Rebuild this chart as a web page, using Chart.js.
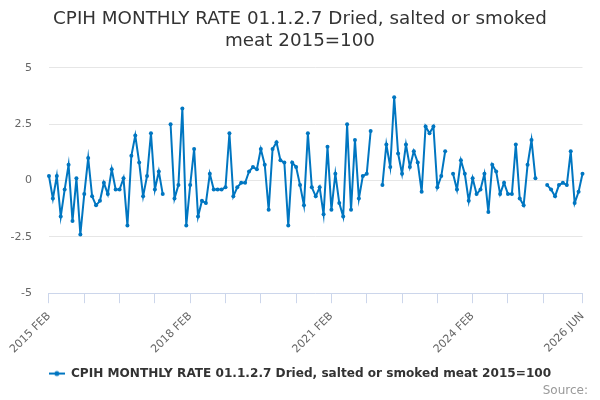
<!DOCTYPE html>
<html>
<head>
<meta charset="utf-8">
<script src="https://cdn.jsdelivr.net/npm/chart.js@4.4.1/dist/chart.umd.min.js"></script>
<style>
  html, body { margin: 0; background: #fff; }
  #wrap { width: 600px; height: 400px; }
</style>
</head>
<body>
<div id="wrap"><canvas id="chart"></canvas></div>
<script>
const LINE_COLOR = '#0076c1';
const AXIS_COLOR = '#ccd6eb';
const GRID_COLOR = '#e6e6e6';
const FONT = "'DejaVu Sans', sans-serif";

const TITLE_LINES = ['CPIH MONTHLY RATE 01.1.2.7 Dried, salted or smoked', 'meat 2015=100'];
const SERIES_NAME = 'CPIH MONTHLY RATE 01.1.2.7 Dried, salted or smoked meat 2015=100';
const SOURCE_TEXT = 'Source:';

const MONTHS = ['JAN', 'FEB', 'MAR', 'APR', 'MAY', 'JUN', 'JUL', 'AUG', 'SEP', 'OCT', 'NOV', 'DEC'];
const START_YEAR = 2015;
const START_MONTH = 1; // FEB

// monthly rate, 2015 FEB .. 2026 JUN (null = no value)
const RATES = [
  0.2, -0.8, 0.2, -1.6, -0.4, 0.7, -1.8, 0.1, -2.4, -0.6, 1.0, -0.7,
  -1.1, -0.9, -0.1, -0.6, 0.5, -0.4, -0.4, 0.1, -2.0, 1.1, 2.0, 0.8,
  -0.7, 0.2, 2.1, -0.4, 0.4, -0.6, null, 2.5, -0.8, -0.2, 3.2, -2.0,
  -0.2, 1.4, -1.6, -0.9, -1.0, 0.3, -0.4, -0.4, -0.4, -0.3, 2.1, -0.7,
  -0.3, -0.1, -0.1, 0.4, 0.6, 0.5, 1.4, 0.7, -1.3, 1.4, 1.7, 0.9,
  0.8, -2.0, 0.8, 0.6, -0.2, -1.1, 2.1, -0.3, -0.7, -0.3, -1.5, 1.5,
  -1.3, 0.3, -1.0, -1.6, 2.5, -1.3, 1.8, -0.8, 0.2, 0.3, 2.2, null,
  null, -0.2, 1.6, 0.6, 3.7, 1.2, 0.3, 1.6, 0.6, 1.3, 0.8, -0.5,
  2.4, 2.1, 2.4, -0.3, 0.2, 1.3, null, 0.3, -0.4, 0.9, 0.3, -0.9,
  0.1, -0.6, -0.4, 0.3, -1.4, 0.7, 0.4, -0.6, -0.1, -0.6, -0.6, 1.6,
  -0.8, -1.1, 0.7, 1.8, 0.1, null, null, -0.2, -0.4, -0.7, -0.2, -0.1,
  -0.2, 1.3, -1.0, -0.5, 0.3,
];

const TICK_MARKS  = [0, 9, 18, 27, 36, 45, 54, 63, 72, 81, 90, 99, 108, 117, 126, 136];
const TICK_LABELS = [0, 36, 72, 108, 136];
const Y_TICKS = [-5, -2.5, 0, 2.5, 5];

const categories = RATES.map((_, i) => {
  const m = START_MONTH + i;
  return `${START_YEAR + Math.floor(m / 12)} ${MONTHS[m % 12]}`;
});

// legend symbol: short line with a dot
function legendSymbol() {
  const c = document.createElement('canvas');
  c.width = 16; c.height = 8;
  const g = c.getContext('2d');
  g.strokeStyle = LINE_COLOR;
  g.lineWidth = 2;
  g.beginPath(); g.moveTo(0, 4); g.lineTo(16, 4); g.stroke();
  g.fillStyle = LINE_COLOR;
  g.beginPath(); g.arc(8, 4, 2.5, 0, Math.PI * 2); g.fill();
  return c;
}

// title and legend centred on the whole canvas, source text 12px from the right edge
const recenterBlocks = {
  id: 'recenterBlocks',
  afterLayout(chart) {
    for (const box of chart.boxes) {
      if (box === chart.titleBlock || box === chart.legend) {
        box.left = 0;
        box.right = chart.width;
      } else if (box.options && box.options.text === SOURCE_TEXT) {
        box.right = chart.width - 12;
      }
    }
  },
};

new Chart(document.getElementById('chart'), {
  type: 'line',
  data: {
    labels: categories,
    datasets: [{
      label: SERIES_NAME,
      data: RATES,
      borderColor: LINE_COLOR,
      backgroundColor: LINE_COLOR,
      borderWidth: 2,
      pointRadius: 2,
      pointBorderWidth: 0,
      pointHoverRadius: 3,
      tension: 0,
      spanGaps: false,
    }],
  },
  plugins: [recenterBlocks],
  options: {
    responsive: true,
    maintainAspectRatio: false,
    animation: false,
    // the rotated first x label overhangs into the left margin, as in the original
    layout: { padding: { left: -6.5, right: 17.5, top: 0, bottom: 2 } },
    plugins: {
      title: {
        display: true,
        text: TITLE_LINES,
        color: '#333333',
        font: { family: FONT, size: 18.3, weight: 'normal', lineHeight: 1.2 },
        padding: { top: 8, bottom: 16 },
      },
      subtitle: {
        display: true,
        position: 'bottom',
        align: 'end',
        text: SOURCE_TEXT,
        color: '#999999',
        font: { family: FONT, size: 12 },
        padding: { top: -6, bottom: 0 },
      },
      legend: {
        position: 'bottom',
        labels: {
          color: '#333333',
          font: { family: FONT, size: 12.1, weight: 'bold' },
          usePointStyle: true,
          pointStyle: legendSymbol(),
          pointStyleWidth: 16,
          padding: 5,
        },
      },
      tooltip: { enabled: false },
    },
    scales: {
      x: {
        type: 'category',
        offset: false,
        afterBuildTicks: axis => { axis.ticks = TICK_MARKS.map(v => ({ value: v })); },
        afterCalculateLabelRotation: axis => { axis.labelRotation = 45; },
        ticks: {
          autoSkip: false,
          minRotation: 45,
          maxRotation: 45,
          color: '#666666',
          font: { family: FONT, size: 11 },
          padding: 6.5,
          callback(value) {
            return TICK_LABELS.includes(value) ? this.getLabelForValue(value) : '';
          },
        },
        grid: { drawOnChartArea: false, drawTicks: true, tickLength: 10, color: AXIS_COLOR },
        border: { display: true, color: AXIS_COLOR },
      },
      y: {
        min: -5,
        max: 5,
        afterBuildTicks: axis => { axis.ticks = Y_TICKS.map(v => ({ value: v })); },
        ticks: {
          color: '#666666',
          font: { family: FONT, size: 11 },
          padding: 17,
        },
        grid: { color: GRID_COLOR, drawTicks: false },
        border: { display: false },
      },
    },
  },
});
</script>
</body>
</html>
